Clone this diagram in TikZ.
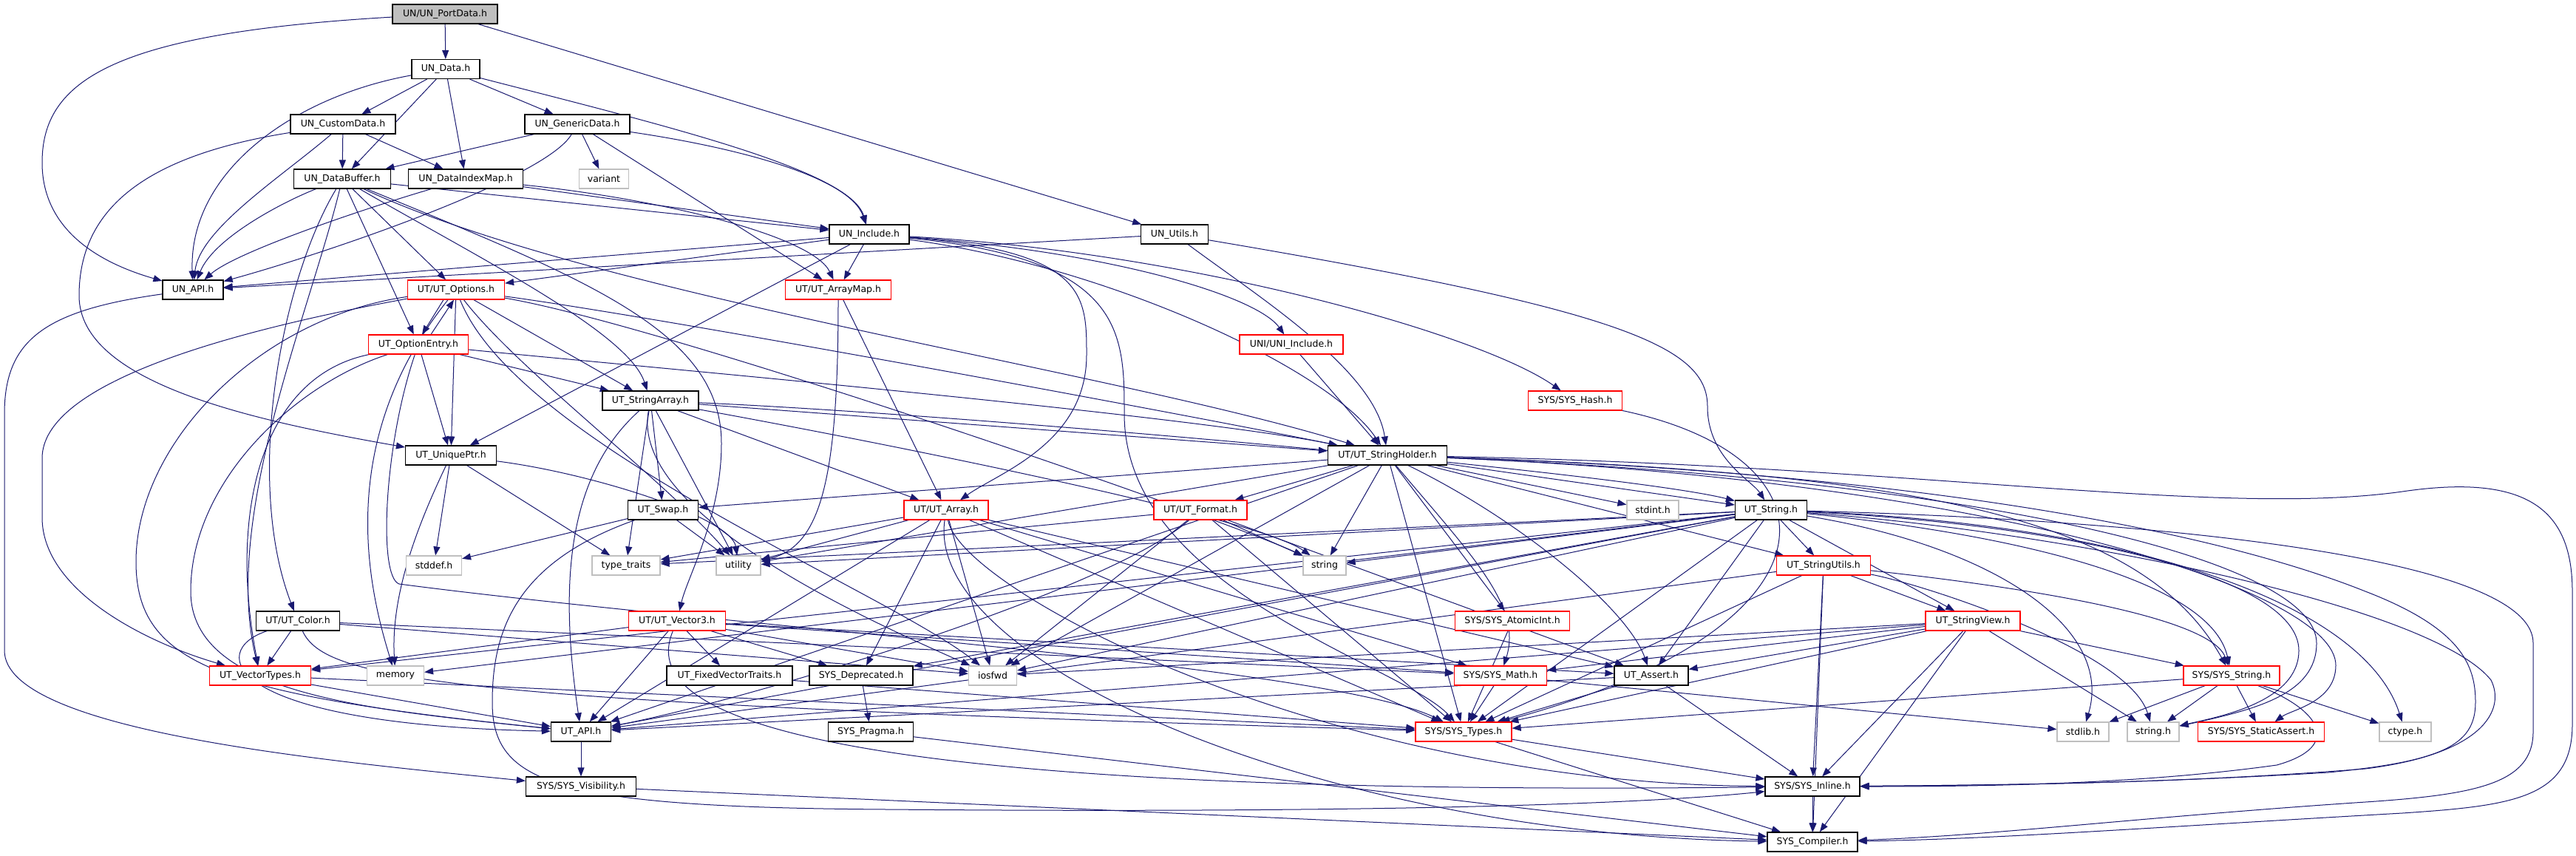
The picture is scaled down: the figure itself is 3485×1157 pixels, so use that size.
\documentclass[tikz,border=0pt]{standalone}
\usepackage{fontspec}
\setmainfont{DejaVu Sans}
\usetikzlibrary{arrows.meta}
\definecolor{edgec}{HTML}{191970}
\definecolor{grayb}{HTML}{BFBFBF}
\definecolor{redb}{HTML}{FF0000}
\pgfdeclarelayer{paper}
\pgfdeclarelayer{bg}
\pgfsetlayers{paper,bg,main}
\tikzset{
  nd/.style={draw=black, line width=1.2pt, fill=white, inner sep=0pt, minimum height=26pt, font=\fontsize{12.5}{15}\selectfont},
  nr/.style={nd, draw=redb},
  ng/.style={nd, draw=grayb},
  edg/.style={draw=edgec, line width=1pt, -{Triangle[length=12pt,width=9pt]}}
}
\newcommand\ed[2]{\draw[edg] (#1) -- (#2);}
\begin{document}
\begin{tikzpicture}[x=1pt,y=-1pt]
\begin{pgfonlayer}{paper}
\fill[white] (0,0) rectangle (3485,1157);
\end{pgfonlayer}
\useasboundingbox (0,0) rectangle (3485,1157);
% nodes
\node[nd,fill=grayb,minimum width=142pt] (portdata) at (602,19) {UN/UN\_PortData.h};
\node[nd,minimum width=92pt] (undata) at (603,93.5) {UN\_Data.h};
\node[nd,minimum width=142pt] (custom) at (464,168) {UN\_CustomData.h};
\node[nd,minimum width=142pt] (generic) at (781,168) {UN\_GenericData.h};
\node[nd,minimum width=131pt] (buffer) at (463,242) {UN\_DataBuffer.h};
\node[nd,minimum width=155pt] (indexmap) at (630,242) {UN\_DataIndexMap.h};
\node[ng,minimum width=67pt] (variant) at (817,242) {variant};
\node[nd,minimum width=108pt] (include) at (1176,317) {UN\_Include.h};
\node[nd,minimum width=91pt] (utils) at (1589,317) {UN\_Utils.h};
\node[nd,minimum width=82pt] (unapi) at (261,392) {UN\_API.h};
\node[nr,minimum width=131pt] (options) at (617,392) {UT/UT\_Options.h};
\node[nr,minimum width=143pt] (arraymap) at (1134,392) {UT/UT\_ArrayMap.h};
\node[nr,minimum width=135pt] (optentry) at (566,466) {UT\_OptionEntry.h};
\node[nr,minimum width=140pt] (uniinc) at (1747,466) {UNI/UNI\_Include.h};
\node[nd,minimum width=130pt] (strarray) at (880,542) {UT\_StringArray.h};
\node[nr,minimum width=127pt] (syshash) at (2131,542) {SYS/SYS\_Hash.h};
\node[nd,minimum width=123pt] (uniqueptr) at (610,616) {UT\_UniquePtr.h};
\node[nd,minimum width=161pt] (strholder) at (1877,616) {UT/UT\_StringHolder.h};
\node[nd,minimum width=95pt] (swap) at (897,690) {UT\_Swap.h};
\node[nr,minimum width=114pt] (array) at (1280,690) {UT/UT\_Array.h};
\node[nr,minimum width=126pt] (format) at (1624,690) {UT/UT\_Format.h};
\node[ng,minimum width=70pt] (stdint) at (2236,690) {stdint.h};
\node[nd,minimum width=97pt] (utstring) at (2396,690) {UT\_String.h};
\node[ng,minimum width=75pt] (stddef) at (587,765) {stddef.h};
\node[ng,minimum width=92pt] (typetraits) at (847,765) {type\_traits};
\node[ng,minimum width=60pt] (utility) at (999,765) {utility};
\node[ng,minimum width=58pt] (string) at (1792,765) {string};
\node[nr,minimum width=127pt] (strutils) at (2467,765) {UT\_StringUtils.h};
\node[nd,minimum width=113pt] (color) at (403,840) {UT/UT\_Color.h};
\node[nr,minimum width=131pt] (vector3) at (916,840) {UT/UT\_Vector3.h};
\node[nr,minimum width=155pt] (atomicint) at (2046,840) {SYS/SYS\_AtomicInt.h};
\node[nr,minimum width=128pt] (strview) at (2669,840) {UT\_StringView.h};
\node[nr,minimum width=137pt] (vectypes) at (352,914) {UT\_VectorTypes.h};
\node[ng,minimum width=77pt] (memory) at (535,914) {memory};
\node[nd,minimum width=170pt] (fixedvec) at (987,914) {UT\_FixedVectorTraits.h};
\node[nd,minimum width=140pt] (deprecated) at (1165,914) {SYS\_Deprecated.h};
\node[ng,minimum width=65pt] (iosfwd) at (1343,914) {iosfwd};
\node[nr,minimum width=125pt] (sysmath) at (2030,914) {SYS/SYS\_Math.h};
\node[nd,minimum width=100pt] (assert) at (2234,914) {UT\_Assert.h};
\node[nr,minimum width=130pt] (sysstring) at (3019,914) {SYS/SYS\_String.h};
\node[nd,minimum width=81pt] (utapi) at (786,990) {UT\_API.h};
\node[nd,minimum width=115pt] (pragma) at (1178,990) {SYS\_Pragma.h};
\node[nr,minimum width=130pt] (systypes) at (1980,990) {SYS/SYS\_Types.h};
\node[ng,minimum width=70pt] (stdlib) at (2818,990) {stdlib.h};
\node[ng,minimum width=70pt] (stringh) at (2913,990) {string.h};
\node[nr,minimum width=171pt] (staticassert) at (3059,990) {SYS/SYS\_StaticAssert.h};
\node[ng,minimum width=70pt] (ctype) at (3254,990) {ctype.h};
\node[nd,minimum width=149pt] (visibility) at (786,1064) {SYS/SYS\_Visibility.h};
\node[nd,minimum width=128pt] (inline) at (2452,1064) {SYS/SYS\_Inline.h};
\node[nd,minimum width=122pt] (compiler) at (2452,1139) {SYS\_Compiler.h};

\begin{pgfonlayer}{bg}
% top
\ed{portdata}{undata}
\ed{portdata}{utils}
\draw[edg] (portdata) .. controls (150,45) and (57,110) .. (57,220) .. controls (57,320) and (150,360) .. (unapi);
\ed{undata}{custom}
\ed{undata}{generic}
\ed{undata}{buffer}
\ed{undata}{indexmap}
\draw[edg] (undata) .. controls (400,130) and (255,230) .. (unapi);
\draw[edg] (undata) .. controls (900,170) and (1150,230) .. (include);
\ed{custom}{buffer}
\ed{custom}{indexmap}
\draw[edg] (custom) .. controls (380,240) and (270,310) .. (unapi);
\draw[edg] (custom) .. controls (200,210) and (107,280) .. (107,400) .. controls (107,520) and (350,570) .. (uniqueptr);
\ed{generic}{buffer}
\ed{generic}{variant}
\ed{generic}{arraymap}
\draw[edg] (generic) .. controls (740,240) and (450,340) .. (unapi);
\draw[edg] (generic) .. controls (1000,200) and (1150,240) .. (include);
% buffer
\draw[edg] (buffer) .. controls (390,270) and (290,320) .. (unapi);
\ed{buffer}{include}
\ed{buffer}{options}
\ed{buffer}{optentry}
\draw[edg] (buffer) .. controls (650,350) and (850,450) .. (strarray);
\draw[edg] (buffer) .. controls (800,400) and (1500,500) .. (strholder);
\draw[edg] (buffer) .. controls (380,380) and (330,650) .. (color);
\draw[edg] (buffer) .. controls (420,420) and (300,700) .. (vectypes);
\draw[edg] (buffer) .. controls (800,380) and (976,450) .. (976,600) .. controls (976,700) and (930,780) .. (vector3);
% indexmap
\draw[edg] (indexmap) .. controls (500,280) and (320,340) .. (unapi);
\ed{indexmap}{include}
\draw[edg] (indexmap) .. controls (900,270) and (1100,320) .. (arraymap);
% include
\ed{include}{unapi}
\ed{include}{options}
\ed{include}{uniqueptr}
\ed{include}{arraymap}
\draw[edg] (include) .. controls (1500,340) and (1700,400) .. (uniinc);
\draw[edg] (include) .. controls (1600,340) and (2000,450) .. (syshash);
\draw[edg] (include) .. controls (1500,360) and (1800,500) .. (strholder);
\draw[edg] (include) .. controls (1470,340) and (1470,400) .. (1470,480) .. controls (1470,600) and (1350,640) .. (array);
\draw[edg] (include) .. controls (1521,350) and (1521,450) .. (1521,560) .. controls (1521,800) and (1900,900) .. (systypes);
% utils
\ed{utils}{unapi}
\draw[edg] (utils) .. controls (1700,400) and (1860,500) .. (strholder);
\draw[edg] (utils) .. controls (2200,420) and (2310,470) .. (2310,550) .. controls (2310,620) and (2370,650) .. (utstring);
% arraymap
\ed{arraymap}{array}
\draw[edg] (arraymap) .. controls (1134,650) and (1110,740) .. (utility);
% options
\draw[edg] ([xshift=-17pt]options.south) -- ([xshift=5pt]optentry.north);
\draw[edg] ([xshift=17pt]optentry.north) -- ([xshift=-3pt]options.south);
\ed{options}{uniqueptr}
\ed{options}{strarray}
\draw[edg] (options) .. controls (900,430) and (1600,560) .. (strholder);
\draw[edg] (options) .. controls (900,440) and (1650,700) .. (string);
\draw[edg] (options) .. controls (700,500) and (900,650) .. (utility);
\draw[edg] (options) .. controls (300,450) and (57,520) .. (57,620) -- (57,700) .. controls (57,800) and (200,870) .. (vectypes);
\draw[edg] (options) .. controls (350,430) and (184,600) .. (184,760) .. controls (184,900) and (300,940) .. (utapi);
\draw[edg] (options) .. controls (450,600) and (500,800) .. (memory);
\draw[edg] (options) .. controls (700,600) and (1200,800) .. (iosfwd);
% optentry
\ed{optentry}{uniqueptr}
\ed{optentry}{strarray}
\draw[edg] (optentry) .. controls (800,490) and (1600,560) .. (strholder);
\draw[edg] (optentry) .. controls (400,520) and (258,650) .. (258,800) .. controls (258,940) and (500,960) .. (utapi);
\draw[edg] (optentry) .. controls (350,510) and (310,700) .. (vectypes);
\draw[edg] (optentry) .. controls (520,600) and (511,780) .. (540,790) .. controls (1000,850) and (1800,900) .. (systypes);
% strarray
\ed{strarray}{array}
\ed{strarray}{swap}
\ed{strarray}{typetraits}
\ed{strarray}{strholder}
\draw[edg] (strarray) .. controls (1300,560) and (2200,640) .. (utstring);
\ed{strarray}{utility}
\draw[edg] (strarray) .. controls (1200,600) and (1700,700) .. (string);
\draw[edg] (strarray) .. controls (763,647) and (758,800) .. (utapi);
\draw[edg] (strarray) .. controls (850,700) and (1200,850) .. (iosfwd);
% uniqueptr
\ed{uniqueptr}{stddef}
\ed{uniqueptr}{typetraits}
\draw[edg] (uniqueptr) .. controls (800,640) and (990,700) .. (utility);
\draw[edg] (uniqueptr) .. controls (570,700) and (528,800) .. (memory);
% swap
\ed{swap}{stddef}
\ed{swap}{utility}
\draw[edg] (swap) .. controls (700,760) and (666,850) .. (666,950) .. controls (666,1060) and (750,1092) .. (1200,1095) .. controls (1800,1100) and (2200,1090) .. (inline);
% array
\ed{array}{typetraits}
\ed{array}{utility}
\ed{array}{utapi}
\ed{array}{deprecated}
\ed{array}{iosfwd}
\ed{array}{systypes}
\ed{array}{assert}
\ed{array}{sysmath}
\draw[edg] (array) .. controls (1300,800) and (1800,1060) .. (inline);
\draw[edg] (array) .. controls (1250,900) and (1800,1130) .. (compiler);
% format
\ed{format}{typetraits}
\ed{format}{string}
\ed{format}{iosfwd}
\draw[edg] (format) .. controls (1500,800) and (1000,950) .. (utapi);
\ed{format}{systypes}
\ed{format}{assert}
% strholder
\ed{uniinc}{strholder}
\ed{strholder}{swap}
\ed{strholder}{utility}
\ed{strholder}{string}
\ed{strholder}{utapi}
\ed{strholder}{atomicint}
\draw[edg] (strholder) .. controls (1990,750) and (2060,820) .. (sysmath);
\draw[edg] (strholder) .. controls (2050,700) and (2200,820) .. (assert);
\ed{strholder}{stdint}
\ed{strholder}{utstring}
\ed{strholder}{strutils}
\ed{strholder}{format}
\ed{strholder}{iosfwd}
\ed{strholder}{systypes}
\draw[edg] (strholder) .. controls (2600,640) and (3000,720) .. (3200,800) .. controls (3330,850) and (3349,900) .. (3349,950) .. controls (3349,1010) and (3300,1030) .. (3150,1045) .. controls (2900,1060) and (2700,1062) .. (inline);
\draw[edg] (strholder) .. controls (2600,630) and (3000,700) .. (3250,665) .. controls (3420,640) and (3480,690) .. (3480,800) -- (3480,980) .. controls (3480,1080) and (3400,1090) .. (3250,1100) .. controls (2900,1120) and (2700,1135) .. (compiler);
\draw[edg] (strholder) .. controls (2600,640) and (2900,700) .. (sysstring);
\draw[edg] (strholder) .. controls (2700,650) and (3134,760) .. (3134,870) .. controls (3134,940) and (3050,960) .. (stringh);
\draw[edg] (strholder) .. controls (2700,650) and (3160,800) .. (3160,900) .. controls (3160,950) and (3100,960) .. (staticassert);
% utstring
\ed{utstring}{string}
\ed{utstring}{utility}
\ed{utstring}{typetraits}
\ed{utstring}{iosfwd}
\ed{utstring}{memory}
\ed{utstring}{vectypes}
\ed{utstring}{deprecated}
\ed{utstring}{utapi}
\ed{utstring}{strutils}
\ed{utstring}{strview}
\ed{utstring}{assert}
\ed{utstring}{systypes}
\draw[edg] (utstring) .. controls (2700,720) and (2990,780) .. (sysstring);
\draw[edg] (utstring) .. controls (2800,710) and (3110,780) .. (3110,880) .. controls (3110,950) and (3000,970) .. (stringh);
\draw[edg] (utstring) .. controls (2700,740) and (2860,850) .. (stdlib);
\draw[edg] (utstring) .. controls (2900,710) and (3200,820) .. (ctype);
\draw[edg] (utstring) .. controls (2800,720) and (3290,820) .. (3370,920) .. controls (3390,960) and (3360,1020) .. (3200,1040) .. controls (2950,1060) and (2700,1062) .. (inline);
\draw[edg] (utstring) .. controls (2800,700) and (3427,740) .. (3427,870) -- (3427,990) .. controls (3427,1060) and (3350,1075) .. (3200,1085) .. controls (2900,1105) and (2700,1130) .. (compiler);
% strutils
\ed{strutils}{strview}
\ed{strutils}{inline}
\ed{strutils}{compiler}
\ed{strutils}{systypes}
\ed{strutils}{utapi}
\draw[edg] (strutils) .. controls (2700,790) and (2990,830) .. (sysstring);
\draw[edg] (strutils) .. controls (2600,790) and (2880,880) .. (stringh);
% strview
\ed{strview}{sysstring}
\ed{strview}{stringh}
\ed{strview}{inline}
\ed{strview}{compiler}
\ed{strview}{assert}
\ed{strview}{utapi}
\ed{strview}{systypes}
\ed{strview}{iosfwd}
\ed{strview}{sysmath}
% vector3
\ed{vector3}{vectypes}
\ed{vector3}{utapi}
\draw[edg] (vector3) .. controls (870,950) and (1000,1080) .. (inline);
\ed{vector3}{fixedvec}
\ed{vector3}{deprecated}
\ed{vector3}{iosfwd}
\ed{vector3}{sysmath}
\ed{vector3}{assert}
% color
\draw[edg] (color) .. controls (280,880) and (300,980) .. (utapi);
\ed{color}{vectypes}
\draw[edg] (color) .. controls (440,920) and (600,950) .. (systypes);
\ed{color}{iosfwd}
\ed{color}{sysmath}
% lower
\ed{vectypes}{utapi}
\ed{vectypes}{systypes}
\ed{fixedvec}{systypes}
\ed{deprecated}{pragma}
\ed{pragma}{compiler}
\ed{utapi}{visibility}
\ed{visibility}{compiler}
\draw[edg] (unapi) .. controls (60,420) and (6,460) .. (6,560) -- (6,880) .. controls (6,990) and (450,1030) .. (visibility);
\ed{atomicint}{systypes}
\ed{sysmath}{systypes}
\ed{sysmath}{stdlib}
\ed{assert}{inline}
\ed{assert}{utapi}
\ed{assert}{systypes}
\ed{systypes}{inline}
\ed{systypes}{compiler}
\ed{inline}{compiler}
\ed{sysstring}{systypes}
\ed{sysstring}{stdlib}
\ed{sysstring}{stringh}
\ed{sysstring}{staticassert}
\ed{sysstring}{ctype}
\draw[edg] (sysstring) .. controls (3140,960) and (3170,1010) .. (3080,1035) .. controls (2900,1060) and (2700,1064) .. (inline);
\draw[edg] (syshash) .. controls (2500,620) and (2500,850) .. (systypes);
\end{pgfonlayer}
\end{tikzpicture}
\end{document}
